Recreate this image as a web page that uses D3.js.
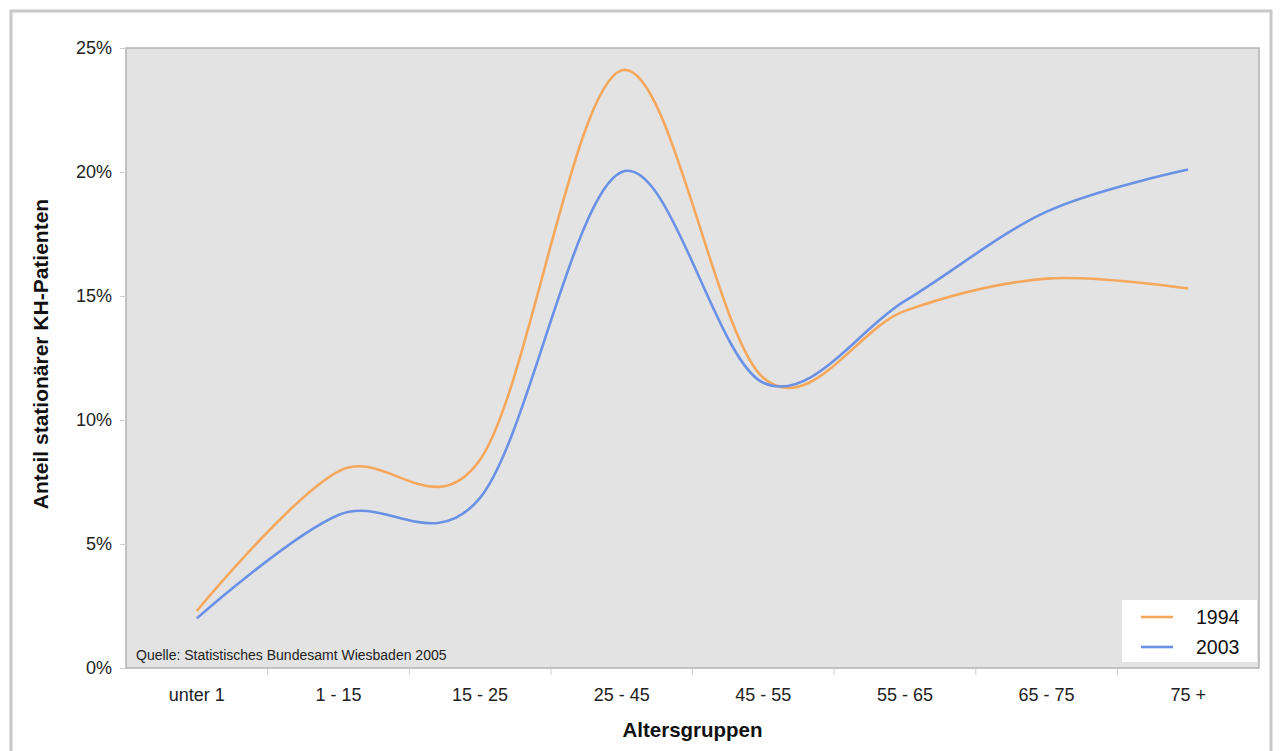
<!DOCTYPE html>
<html>
<head>
<meta charset="utf-8">
<script src="https://cdn.jsdelivr.net/npm/d3@7"></script>
<style>
  body { margin: 0; background: #fff; }
  svg { display: block; font-family: "Liberation Sans", Arial, sans-serif; }
</style>
</head>
<body>
<svg id="chart" width="1282" height="751"></svg>
<script>
const categories = ["unter 1", "1 - 15", "15 - 25", "25 - 45", "45 - 55", "55 - 65", "65 - 75", "75 +"];
const values1994 = [2.3, 7.93, 8.4, 24.1, 11.7, 14.4, 15.7, 15.3];
const values2003 = [2.0, 6.17, 6.86, 20.0, 11.5, 14.8, 18.4, 20.1];
const seriesNames = ["1994", "2003"];
const yTicks = [0, 5, 10, 15, 20, 25];
const sourceNote = "Quelle: Statistisches Bundesamt Wiesbaden 2005";
const xTitle = "Altersgruppen";
const yTitle = "Anteil stationärer KH-Patienten";

const colors = ["#f5a85c", "#6b91e6"];
const svg = d3.select("#chart");

const plot = { left: 126, right: 1259, top: 48, bottom: 668 };

// outer frame
svg.append("rect")
  .attr("x", 11).attr("y", 11).attr("width", 1260).attr("height", 760)
  .attr("fill", "none").attr("stroke", "#c8c8c8").attr("stroke-width", 3);

const x = d3.scaleBand().domain(categories).range([plot.left, plot.right]).padding(0);
const y = d3.scaleLinear().domain([0, 25]).range([plot.bottom, plot.top]);

// plot area
svg.append("rect")
  .attr("x", plot.left).attr("y", plot.top)
  .attr("width", plot.right - plot.left).attr("height", plot.bottom - plot.top)
  .attr("fill", "#e3e3e3").attr("stroke", "#b2b2b2").attr("stroke-width", 1.5);

// y axis
const yAxis = d3.axisLeft(y).tickValues(yTicks).tickFormat(d => d + "%").tickSize(6).tickPadding(8);
const yg = svg.append("g").attr("transform", `translate(${plot.left},0)`).call(yAxis);
yg.select(".domain").remove();
yg.selectAll(".tick line").attr("stroke", "#cfcfcf");
yg.selectAll(".tick text").attr("font-size", 18).attr("fill", "#222")
  .attr("font-family", "Liberation Sans, Arial, sans-serif");

// x axis
const xAxis = d3.axisBottom(x).tickSize(0).tickPadding(20);
const xg = svg.append("g").attr("transform", `translate(0,${plot.bottom})`).call(xAxis);
xg.select(".domain").remove();
xg.selectAll(".tick text").attr("font-size", 18).attr("fill", "#222")
  .attr("font-family", "Liberation Sans, Arial, sans-serif");
// x tick marks at category boundaries
svg.append("g").selectAll("line")
  .data(categories.slice(1))
  .join("line")
  .attr("x1", d => x(d)).attr("x2", d => x(d))
  .attr("y1", plot.bottom + 1).attr("y2", plot.bottom + 7)
  .attr("stroke", "#cfcfcf");

// titles
svg.append("text")
  .attr("x", (plot.left + plot.right) / 2).attr("y", 737)
  .attr("text-anchor", "middle").attr("font-size", 20.5).attr("font-weight", "bold")
  .attr("fill", "#111").text(xTitle);
svg.append("text")
  .attr("transform", `translate(48,${(plot.top + plot.bottom) / 2 - 4}) rotate(-90)`)
  .attr("text-anchor", "middle").attr("font-size", 21).attr("font-weight", "bold")
  .attr("fill", "#111").text(yTitle);

// source note
svg.append("text")
  .attr("x", 136).attr("y", 660)
  .attr("font-size", 14).attr("fill", "#222").text(sourceNote);

// lines
const line = d3.line()
  .x((d, i) => x(categories[i]) + x.bandwidth() / 2)
  .y(d => y(d))
  .curve(d3.curveCatmullRom.alpha(0));

[values1994, values2003].forEach((vals, k) => {
  svg.append("path")
    .datum(vals)
    .attr("fill", "none")
    .attr("stroke", colors[k])
    .attr("stroke-width", 2.6)
    .attr("stroke-linejoin", "round")
    .attr("d", line);
});

// legend
const lg = svg.append("g");
lg.append("rect")
  .attr("x", 1122).attr("y", 600).attr("width", 135).attr("height", 62)
  .attr("fill", "#ffffff");
seriesNames.forEach((name, k) => {
  const cy = 617 + k * 30;
  lg.append("line")
    .attr("x1", 1141).attr("x2", 1173).attr("y1", cy).attr("y2", cy)
    .attr("stroke", colors[k]).attr("stroke-width", 2.6);
  lg.append("text")
    .attr("x", 1196).attr("y", cy).attr("dy", "0.36em")
    .attr("font-size", 19.5).attr("fill", "#111").text(name);
});
</script>
</body>
</html>
